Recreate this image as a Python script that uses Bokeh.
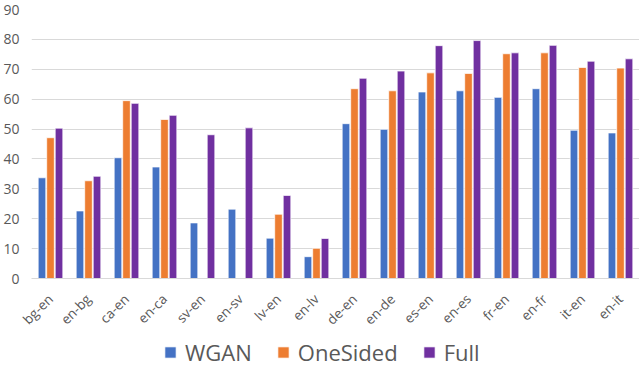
import math
from bokeh.plotting import figure
from bokeh.layouts import column
from bokeh.models import ColumnDataSource, Legend, LegendItem, Range1d
from bokeh.transform import dodge
from bokeh.embed import file_html
from bokeh.resources import INLINE

pairs = ["bg-en", "en-bg", "ca-en", "en-ca", "sv-en", "en-sv", "lv-en", "en-lv",
         "de-en", "en-de", "es-en", "en-es", "fr-en", "en-fr", "it-en", "en-it"]
wgan = [33.7, 22.6, 40.4, 37.3, 18.6, 23.2, 13.5, 7.3,
        51.8, 49.9, 62.4, 62.8, 60.6, 63.5, 49.6, 48.7]
onesided = [47.1, 32.7, 59.5, 53.2, float("nan"), float("nan"), 21.5, 10.1,
            63.5, 62.8, 68.8, 68.6, 75.2, 75.5, 70.6, 70.4]
full = [50.3, 34.2, 58.6, 54.6, 48.1, 50.4, 27.8, 13.4,
        67.0, 69.4, 77.9, 79.6, 75.5, 78.0, 72.7, 73.5]
y_ticks = [0, 10, 20, 30, 40, 50, 60, 70, 80, 90]
series_names = ["WGAN", "OneSided", "Full"]
series_colors = ["#4472C4", "#ED7D31", "#7030A0"]

src = ColumnDataSource(dict(pair=pairs, wgan=wgan, onesided=onesided, full=full))

FONT = "Open Sans"
GRAY = "#595959"

p = figure(x_range=pairs, y_range=Range1d(0, 90), frame_width=608, frame_height=269,
           output_backend="svg", toolbar_location=None,
           min_border_left=24, min_border_right=0, min_border_top=9,
           min_border_bottom=57)
p.outline_line_color = None

fields = ["wgan", "onesided", "full"]
offs = [-0.224, 0.0, 0.224]
for f, c, o in zip(fields, series_colors, offs):
    p.vbar(x=dodge("pair", o, range=p.x_range), top=f, width=0.2, source=src,
           fill_color=c, line_color="white", line_alpha=0.7, line_width=1)

p.yaxis.ticker = y_ticks
p.yaxis.axis_line_color = None
p.yaxis.major_tick_line_color = None
p.yaxis.minor_tick_line_color = None
p.yaxis.major_label_text_font = FONT
p.yaxis.major_label_text_font_size = "14px"
p.yaxis.major_label_text_color = GRAY
p.yaxis.major_label_standoff = 6

p.xaxis.axis_line_color = "#d9d9d9"
p.xaxis.major_tick_line_color = None
p.xaxis.minor_tick_line_color = None
p.xaxis.major_label_orientation = math.pi / 4
p.xaxis.major_label_text_font = FONT
p.xaxis.major_label_text_font_size = "13.5px"
p.xaxis.major_label_text_color = GRAY
p.xaxis.major_label_standoff = 12

p.xgrid.grid_line_color = None
p.ygrid.grid_line_color = "#d9d9d9"
p.ygrid.grid_line_width = 1

# legend strip below the chart
lg = figure(width=632, height=30, x_range=Range1d(0, 1), y_range=Range1d(0, 1),
            output_backend="svg", toolbar_location=None,
            x_axis_type=None, y_axis_type=None, min_border=0)
lg.outline_line_color = None
lg.grid.visible = False
dummy = []
for c in series_colors:
    dummy.append(lg.vbar(x=[-5], top=[-5], width=0.1, fill_color=c,
                         line_color="white", line_alpha=0.7))

legend = Legend(items=[LegendItem(label=n, renderers=[r]) for n, r in zip(series_names, dummy)],
                orientation="horizontal", location=(132, 0))
legend.border_line_color = None
legend.background_fill_alpha = 0
legend.label_text_font = FONT
legend.label_text_font_size = "22px"
legend.label_text_color = GRAY
legend.glyph_width = 14
legend.glyph_height = 14
legend.label_standoff = 8
legend.spacing = 24
legend.margin = 0
legend.padding = 0
lg.add_layout(legend, "center")

layout = column(p, lg, spacing=0)
open("out.html", "w").write(file_html(layout, INLINE))
